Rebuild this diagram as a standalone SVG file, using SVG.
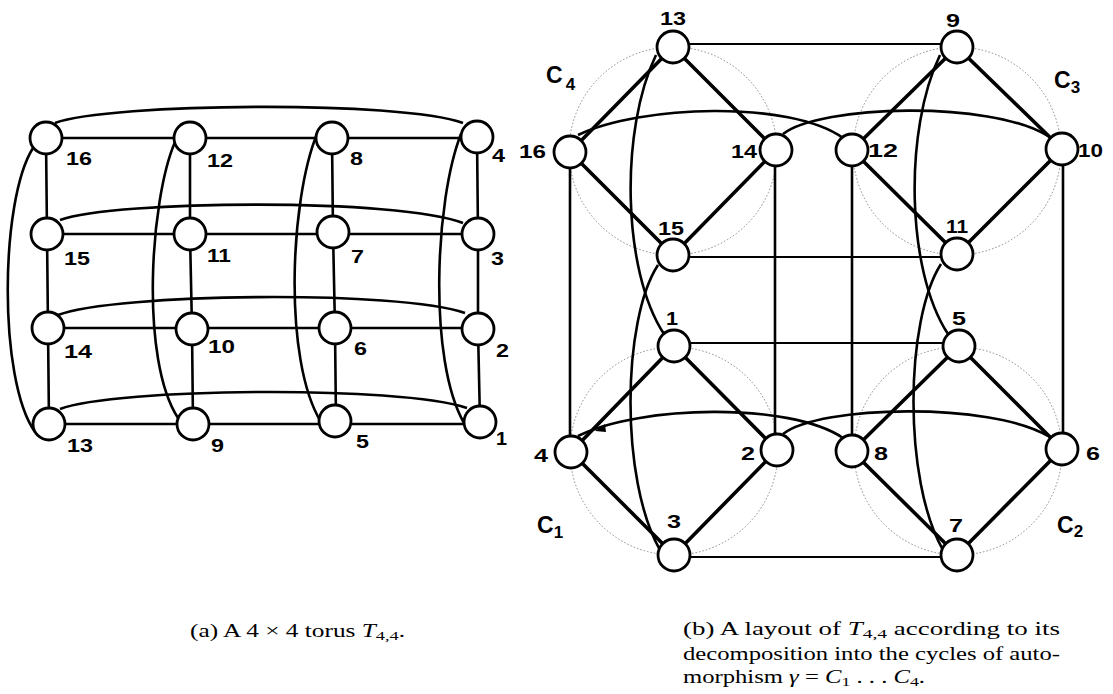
<svg xmlns="http://www.w3.org/2000/svg" width="1113" height="694" viewBox="0 0 1113 694">
<style>
.bg{fill:#fff}
.n{fill:#fff;stroke:#000;stroke-width:2.8}
.e{fill:none;stroke:#000;stroke-width:2.6}
.et{fill:none;stroke:#000;stroke-width:3.6}
.eh{fill:none;stroke:#000;stroke-width:2.2}
.dc{fill:none;stroke:#888;stroke-width:1;stroke-dasharray:1.5 2}
.lb{font-family:"Liberation Sans",Arial,sans-serif;font-weight:bold;font-size:19px;fill:#000}
.cl{font-family:"Liberation Sans",Arial,sans-serif;font-weight:bold;font-size:23px;fill:#000}
.cs{font-size:17px}
.cap{font-family:"Liberation Serif","Times New Roman",serif;font-size:18px;fill:#000}
</style>
<rect class="bg" x="0" y="0" width="1113" height="694"/>

<!-- (a) torus connectors -->
<g id="connectors-a">
  <path class="e" d="M46 138 H477 M47 234 H478 M48 328 H478 M49 424 H480"/>
  <path class="e" d="M46 138 L47 234 L48 328 L49 424 M190 138 L190 234 L192 329 L193 424 M332 138 L333 232 L335 328 L336 422 M477 137 L478 234 L478 329 L480 422"/>
  <path class="e" d="M55 123 C110 103 400 100 463 123"/>
  <path class="e" d="M60 220 C115 200 400 198 463 223"/>
  <path class="e" d="M58 315 C115 293 400 290 465 313"/>
  <path class="e" d="M60 409 C115 388 400 385 467 408"/>
  <path class="e" d="M33 148 C0 200 -2 380 35 432"/>
  <path class="e" d="M175 142 C150 200 140 360 178 418"/>
  <path class="e" d="M317 134 C290 200 283 360 321 422"/>
  <path class="e" d="M461 134 C435 200 428 360 464 423"/>
</g>

<!-- (a) nodes -->
<g id="a16"><circle class="n" cx="46" cy="138" r="16"/><text class="lb" x="66" y="165" textLength="26" lengthAdjust="spacingAndGlyphs">16</text></g>
<g id="a12"><circle class="n" cx="190" cy="138" r="16"/><text class="lb" x="207" y="167" textLength="26" lengthAdjust="spacingAndGlyphs">12</text></g>
<g id="a8"><circle class="n" cx="332" cy="138" r="16"/><text class="lb" x="350" y="165" textLength="13" lengthAdjust="spacingAndGlyphs">8</text></g>
<g id="a4"><circle class="n" cx="477" cy="137" r="16"/><text class="lb" x="492" y="162" textLength="13" lengthAdjust="spacingAndGlyphs">4</text></g>
<g id="a15"><circle class="n" cx="47" cy="234" r="16"/><text class="lb" x="64" y="265" textLength="26" lengthAdjust="spacingAndGlyphs">15</text></g>
<g id="a11"><circle class="n" cx="190" cy="234" r="16"/><text class="lb" x="207" y="262" textLength="24" lengthAdjust="spacingAndGlyphs">11</text></g>
<g id="a7"><circle class="n" cx="333" cy="232" r="16"/><text class="lb" x="351" y="263" textLength="13" lengthAdjust="spacingAndGlyphs">7</text></g>
<g id="a3"><circle class="n" cx="478" cy="234" r="16"/><text class="lb" x="491" y="265" textLength="13" lengthAdjust="spacingAndGlyphs">3</text></g>
<g id="a14"><circle class="n" cx="48" cy="328" r="16"/><text class="lb" x="64" y="358" textLength="28" lengthAdjust="spacingAndGlyphs">14</text></g>
<g id="a10"><circle class="n" cx="192" cy="329" r="16"/><text class="lb" x="208" y="353" textLength="27" lengthAdjust="spacingAndGlyphs">10</text></g>
<g id="a6"><circle class="n" cx="335" cy="328" r="16"/><text class="lb" x="354" y="355" textLength="13" lengthAdjust="spacingAndGlyphs">6</text></g>
<g id="a2"><circle class="n" cx="478" cy="329" r="16"/><text class="lb" x="496" y="357" textLength="13" lengthAdjust="spacingAndGlyphs">2</text></g>
<g id="a13"><circle class="n" cx="49" cy="424" r="16"/><text class="lb" x="67" y="452" textLength="26" lengthAdjust="spacingAndGlyphs">13</text></g>
<g id="a9"><circle class="n" cx="193" cy="424" r="16"/><text class="lb" x="211" y="452" textLength="13" lengthAdjust="spacingAndGlyphs">9</text></g>
<g id="a5"><circle class="n" cx="335" cy="421" r="16"/><text class="lb" x="356" y="448" textLength="13" lengthAdjust="spacingAndGlyphs">5</text></g>
<g id="a1"><circle class="n" cx="480" cy="422" r="16"/><text class="lb" x="496" y="445" textLength="11" lengthAdjust="spacingAndGlyphs">1</text></g>

<!-- (b) cycle circles -->
<g id="cycles">
  <circle class="dc" cx="673" cy="151" r="104"/>
  <circle class="dc" cx="957" cy="151" r="104"/>
  <circle class="dc" cx="674" cy="451" r="104"/>
  <circle class="dc" cx="958" cy="451" r="104"/>
</g>

<!-- (b) connectors -->
<g id="connectors-b">
  <path class="et" d="M673 47 L570 152 L673 255 L776 150 Z"/>
  <path class="et" d="M957 47 L852 150 L957 254 L1062 149 Z"/>
  <path class="et" d="M674 346 L571 452 L674 555 L777 450 Z"/>
  <path class="et" d="M959 346 L852 451 L957 555 L1062 449 Z"/>
  <path class="eh" d="M673 44 H957 M673 257 H957 M674 343 H959 M674 557 H957"/>
  <path class="e" d="M570 152 V452 M775 150 V450 M852 150 V451 M1063 149 V449"/>
  <path class="e" d="M578 135 C640 105 790 100 843 138"/>
  <path class="e" d="M783 134 C820 105 990 100 1048 136"/>
  <path class="e" d="M578 436 C640 405 790 402 843 438"/>
  <path class="e" d="M783 434 C820 405 990 402 1048 436"/>
  <polygon points="595,431 605,424 606,432" fill="#000"/>
  <path class="e" d="M656 55 C620 130 622 270 664 334"/>
  <path class="e" d="M658 265 C622 320 620 480 660 550"/>
  <path class="e" d="M940 55 C904 130 906 270 948 334"/>
  <path class="e" d="M941 264 C905 320 903 480 943 550"/>
</g>

<!-- (b) nodes -->
<g id="b13"><circle class="n" cx="673" cy="47" r="16"/><text class="lb" x="660" y="25" textLength="26" lengthAdjust="spacingAndGlyphs">13</text></g>
<g id="b16"><circle class="n" cx="570" cy="152" r="16"/><text class="lb" x="519" y="158" textLength="27" lengthAdjust="spacingAndGlyphs">16</text></g>
<g id="b14"><circle class="n" cx="776" cy="150" r="16"/><text class="lb" x="731" y="158" textLength="26" lengthAdjust="spacingAndGlyphs">14</text></g>
<g id="b15"><circle class="n" cx="673" cy="255" r="16"/><text class="lb" x="658" y="235" textLength="26" lengthAdjust="spacingAndGlyphs">15</text></g>
<g id="b9"><circle class="n" cx="957" cy="47" r="16"/><text class="lb" x="946" y="27" textLength="14" lengthAdjust="spacingAndGlyphs">9</text></g>
<g id="b12"><circle class="n" cx="852" cy="150" r="16"/><text class="lb" x="868" y="157" textLength="30" lengthAdjust="spacingAndGlyphs">12</text></g>
<g id="b10"><circle class="n" cx="1062" cy="149" r="16"/><text class="lb" x="1078" y="157" textLength="25" lengthAdjust="spacingAndGlyphs">10</text></g>
<g id="b11"><circle class="n" cx="957" cy="254" r="16"/><text class="lb" x="946" y="233" textLength="22" lengthAdjust="spacingAndGlyphs">11</text></g>
<g id="b1"><circle class="n" cx="674" cy="346" r="16"/><text class="lb" x="666" y="325" textLength="12" lengthAdjust="spacingAndGlyphs">1</text></g>
<g id="b4"><circle class="n" cx="571" cy="452" r="16"/><text class="lb" x="534" y="462" textLength="14" lengthAdjust="spacingAndGlyphs">4</text></g>
<g id="b2"><circle class="n" cx="777" cy="450" r="16"/><text class="lb" x="741" y="460" textLength="14" lengthAdjust="spacingAndGlyphs">2</text></g>
<g id="b3"><circle class="n" cx="674" cy="555" r="16"/><text class="lb" x="667" y="528" textLength="14" lengthAdjust="spacingAndGlyphs">3</text></g>
<g id="b5"><circle class="n" cx="959" cy="346" r="16"/><text class="lb" x="952" y="325" textLength="14" lengthAdjust="spacingAndGlyphs">5</text></g>
<g id="b8"><circle class="n" cx="852" cy="451" r="16"/><text class="lb" x="874" y="460" textLength="14" lengthAdjust="spacingAndGlyphs">8</text></g>
<g id="b6"><circle class="n" cx="1062" cy="449" r="16"/><text class="lb" x="1086" y="460" textLength="14" lengthAdjust="spacingAndGlyphs">6</text></g>
<g id="b7"><circle class="n" cx="957" cy="555" r="16"/><text class="lb" x="949" y="532" textLength="14" lengthAdjust="spacingAndGlyphs">7</text></g>

<!-- cycle labels -->
<g id="cycle-labels">
  <text class="cl" x="546" y="83">C<tspan class="cs" dx="3" dy="7">4</tspan></text>
  <text class="cl" x="1054" y="88">C<tspan class="cs" dy="5">3</tspan></text>
  <text class="cl" x="537" y="533">C<tspan class="cs" dy="5">1</tspan></text>
  <text class="cl" x="1057" y="533">C<tspan class="cs" dy="4">2</tspan></text>
</g>

<!-- captions -->
<g id="captions">
  <text class="cap" x="190" y="637" textLength="215" lengthAdjust="spacingAndGlyphs">(a) A 4 × 4 torus <tspan font-style="italic">T</tspan><tspan font-size="13" dy="3">4,4</tspan><tspan dy="-3">.</tspan></text>
  <text class="cap" x="683" y="635" textLength="377" lengthAdjust="spacingAndGlyphs">(b) A layout of <tspan font-style="italic">T</tspan><tspan font-size="13" dy="3">4,4</tspan><tspan dy="-3"> according to its</tspan></text>
  <text class="cap" x="683" y="660" textLength="377" lengthAdjust="spacingAndGlyphs">decomposition into the cycles of auto-</text>
  <text class="cap" x="683" y="683" textLength="242" lengthAdjust="spacingAndGlyphs">morphism <tspan font-style="italic">γ</tspan> = <tspan font-style="italic">C</tspan><tspan font-size="13" dy="3">1</tspan><tspan dy="-3"> . . . </tspan><tspan font-style="italic">C</tspan><tspan font-size="13" dy="3">4</tspan><tspan dy="-3">.</tspan></text>
</g>
</svg>
